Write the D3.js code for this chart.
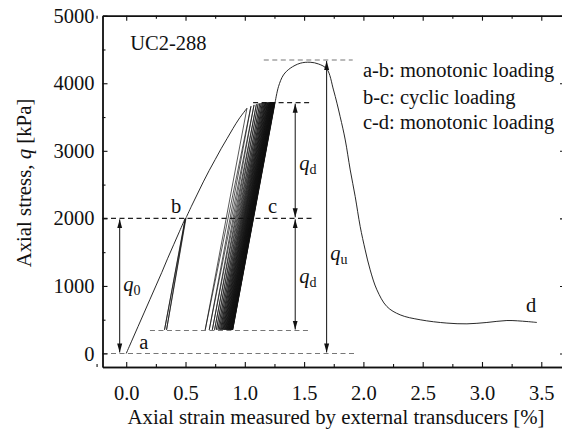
<!DOCTYPE html>
<html><head><meta charset="utf-8">
<script src="https://cdn.jsdelivr.net/npm/d3@7"></script>
<style>
body{margin:0;background:#fff}
svg{display:block}
text{font-family:"Liberation Serif","Times New Roman",serif;fill:#111}
</style>
</head><body>
<svg id="chart" width="562" height="433"></svg>
<script>
// ---------- data ----------
const xTickValues = [0, 0.5, 1.0, 1.5, 2.0, 2.5, 3.0, 3.5];
const xMinorTicks = [-0.25, 0.25, 0.75, 1.25, 1.75, 2.25, 2.75, 3.25, 3.75];
const yTickValues = [0, 1000, 2000, 3000, 4000, 5000];
const yMinorTicks = [500, 1500, 2500, 3500, 4500];

// a-b monotonic loading
const abStrain = [0, 0.05, 0.10, 0.15, 0.20, 0.25, 0.30, 0.35, 0.40, 0.45, 0.497];
const abStress = [0, 200, 400, 600, 800, 1000, 1200, 1410, 1610, 1810, 2000];

// first unload/reload loops at b
const bLoopStrain = [0.323, 0.500, 0.340, 0.505];
const bLoopStress = [350, 2000, 350, 2010];

// loading from b to the first cyclic peak
const firstLoadStrain = [0.505, 0.55, 0.60, 0.65, 0.70, 0.75, 0.80, 0.85, 0.90, 0.95, 1.018];
const firstLoadStress = [2010, 2180, 2360, 2540, 2710, 2870, 3030, 3180, 3330, 3470, 3630];

// cyclic loading b-c: turning points (peak i -> trough i -> peak i+1)
const cycleTopStrain = [1.018, 1.052, 1.078, 1.098, 1.113, 1.127, 1.138, 1.148, 1.156, 1.164, 1.171, 1.177, 1.183, 1.189, 1.194, 1.199, 1.204, 1.208, 1.212, 1.216, 1.220, 1.223, 1.227, 1.230, 1.233, 1.236, 1.239, 1.242, 1.245, 1.247, 1.250, 1.252, 1.254, 1.256];
const cycleTopStress = [3630, 3660, 3680, 3690, 3700, 3705, 3708, 3710, 3712, 3713, 3714, 3715, 3716, 3716, 3717, 3717, 3718, 3718, 3718, 3719, 3719, 3719, 3720, 3720, 3720, 3720, 3720, 3720, 3720, 3720, 3720, 3720, 3720, 3720];
const cycleBottomStrain = [0.666, 0.700, 0.726, 0.745, 0.760, 0.773, 0.784, 0.794, 0.802, 0.810, 0.817, 0.823, 0.829, 0.835, 0.840, 0.845, 0.850, 0.854, 0.858, 0.862, 0.866, 0.869, 0.873, 0.876, 0.879, 0.882, 0.885, 0.888, 0.890, 0.892, 0.894, 0.896, 0.898];
const cycleBottomStress = [350, 350, 350, 350, 350, 350, 350, 350, 350, 350, 350, 350, 350, 350, 350, 350, 350, 350, 350, 350, 350, 350, 350, 350, 350, 350, 350, 350, 350, 350, 350, 350, 350];

// c-d post-cyclic monotonic loading
const cdStrain = [1.256, 1.284, 1.326, 1.383, 1.467, 1.551, 1.622, 1.692, 1.748, 1.804, 1.847, 1.889, 1.931, 1.973, 2.015, 2.057, 2.114, 2.198, 2.310, 2.479, 2.704, 2.873, 3.041, 3.210, 3.379, 3.463];
const cdStress = [3720, 3950, 4123, 4222, 4296, 4311, 4285, 4210, 3901, 3506, 3161, 2717, 2322, 1879, 1534, 1238, 942, 695, 572, 499, 450, 439, 459, 488, 473, 459];

// reference levels
const q0Level = 2000, qMinLevel = 340, qMaxLevel = 3713, quLevel = 4345;

// ---------- chart ----------
const svg = d3.select("#chart");
const x = d3.scaleLinear().domain([-0.2, 3.7]).range([102.5, 565]);
const y = d3.scaleLinear().domain([-200, 5000]).range([367, 15.7]);
const FONT = '"Liberation Serif","Times New Roman",serif';

const pts = (xs, ys) => xs.map((v, i) => [v, ys[i]]);
const lineLin = d3.line().x(d => x(d[0])).y(d => y(d[1]));
const lineSmooth = d3.line().x(d => x(d[0])).y(d => y(d[1])).curve(d3.curveCatmullRom.alpha(0.5));

// dashed reference lines
const dashes = [
  {x1: -0.2, x2: 1.93, q: 0, c: "#777"},
  {x1: 0.20, x2: 1.54, q: qMinLevel, c: "#777"},
  {x1: -0.2, x2: 1.58, q: q0Level, c: "#222"},
  {x1: 1.07, x2: 1.55, q: qMaxLevel, c: "#222"},
  {x1: 1.16, x2: 1.91, q: quLevel, c: "#777"}
];
svg.append("g").selectAll("line").data(dashes).join("line")
  .attr("x1", d => x(d.x1)).attr("x2", d => x(d.x2))
  .attr("y1", d => y(d.q)).attr("y2", d => y(d.q))
  .attr("stroke", d => d.c).attr("stroke-width", 1.1).attr("stroke-dasharray", "5,3.5");

// curve
const g = svg.append("g").attr("fill", "none").attr("stroke", "#111");
g.append("path").attr("d", lineSmooth(pts(abStrain, abStress))).attr("stroke-width", 0.9);
g.append("path").attr("d", lineLin([[abStrain[abStrain.length-1], abStress[abStress.length-1]], ...pts(bLoopStrain, bLoopStress)])).attr("stroke-width", 0.7);
g.append("path").attr("d", lineSmooth(pts(firstLoadStrain, firstLoadStress))).attr("stroke-width", 0.9);
const cyc = [];
for (let i = 0; i < cycleBottomStrain.length; i++) {
  cyc.push([cycleTopStrain[i], cycleTopStress[i]]);
  cyc.push([cycleBottomStrain[i], cycleBottomStress[i]]);
}
cyc.push([cycleTopStrain[cycleTopStrain.length-1], cycleTopStress[cycleTopStress.length-1]]);
g.append("path").attr("d", lineLin(cyc)).attr("stroke-width", 0.7);
g.append("path").attr("d", lineSmooth(pts(cdStrain, cdStress))).attr("stroke-width", 0.9);

// arrows
const defs = svg.append("defs");
defs.append("marker").attr("id", "ah").attr("viewBox", "0 0 10 10").attr("refX", 10).attr("refY", 5)
  .attr("markerWidth", 9).attr("markerHeight", 9).attr("markerUnits", "userSpaceOnUse").attr("orient", "auto-start-reverse")
  .append("path").attr("d", "M0,2.2 L10,5 L0,7.8 Z").attr("fill", "#111");
const arrows = [
  {xv: -0.055, q1: q0Level, q2: 0},
  {xv: 1.425, q1: qMaxLevel, q2: q0Level},
  {xv: 1.425, q1: q0Level, q2: qMinLevel},
  {xv: 1.69, q1: quLevel, q2: 0}
];
svg.append("g").selectAll("line").data(arrows).join("line")
  .attr("x1", d => x(d.xv)).attr("x2", d => x(d.xv))
  .attr("y1", d => y(d.q1) + 1).attr("y2", d => y(d.q2) - 1)
  .attr("stroke", "#111").attr("stroke-width", 1)
  .attr("marker-start", "url(#ah)").attr("marker-end", "url(#ah)");

// axes
const fs = "20.5px";
const ax = svg.append("g");
ax.append("g").attr("transform", `translate(0,${y(-200)})`)
  .call(d3.axisBottom(x).tickValues(xTickValues).tickFormat(d3.format(".1f")).tickSizeInner(-5).tickSizeOuter(0).tickPadding(18));
ax.append("g").attr("transform", `translate(0,${y(-200)})`)
  .call(d3.axisBottom(x).tickValues(xMinorTicks).tickFormat("").tickSizeInner(-3).tickSizeOuter(0));
ax.append("g").attr("transform", `translate(0,${y(5000)})`)
  .call(d3.axisTop(x).tickValues(xTickValues).tickFormat("").tickSizeInner(-5).tickSizeOuter(0));
ax.append("g").attr("transform", `translate(0,${y(5000)})`)
  .call(d3.axisTop(x).tickValues(xMinorTicks).tickFormat("").tickSizeInner(-3).tickSizeOuter(0));
ax.append("g").attr("transform", `translate(${x(-0.2)},0)`)
  .call(d3.axisLeft(y).tickValues(yTickValues).tickFormat(d3.format("d")).tickSizeInner(-5).tickSizeOuter(0).tickPadding(8));
ax.append("g").attr("transform", `translate(${x(-0.2)},0)`)
  .call(d3.axisLeft(y).tickValues(yMinorTicks).tickFormat("").tickSizeInner(-3).tickSizeOuter(0));
ax.append("g").attr("transform", `translate(${x(3.7)},0)`)
  .call(d3.axisRight(y).tickValues(yTickValues).tickFormat("").tickSizeInner(-5).tickSizeOuter(0));
ax.selectAll("g").attr("font-size", fs).attr("font-family", FONT);
ax.selectAll(".domain").attr("stroke", "#111").attr("stroke-width", 1.4);
ax.selectAll(".tick line").attr("stroke", "#111").attr("stroke-width", 1.1);
ax.selectAll(".tick text").attr("font-size", fs).attr("font-family", FONT).attr("fill", "#111");

// axis titles
svg.append("text").attr("x", 336).attr("y", 424).attr("text-anchor", "middle").attr("font-size", "20.8px")
  .text("Axial strain measured by external transducers [%]");
const yt = svg.append("text").attr("transform", "translate(31,183) rotate(-90)").attr("text-anchor", "middle").attr("font-size", "20.8px");
yt.append("tspan").text("Axial stress, ");
yt.append("tspan").attr("font-style", "italic").text("q");
yt.append("tspan").text(" [kPa]");

// annotations
const note = (xv, qv, txt, anchor) => svg.append("text").attr("x", x(xv)).attr("y", y(qv))
  .attr("text-anchor", anchor || "start").attr("font-size", fs).text(txt);
note(0.034, 4493, "UC2-288");
note(1.996, 4089, "a-b: monotonic loading");
note(1.996, 3693, "b-c: cyclic loading");
note(1.996, 3319, "c-d: monotonic loading");
note(0.148, 70, "a", "middle");
note(0.42, 2081, "b", "middle");
note(1.235, 2081, "c", "middle");
note(3.415, 617, "d", "middle");

const qLabel = (xv, qv, sub) => {
  const t = svg.append("text").attr("x", x(xv)).attr("y", y(qv)).attr("font-size", fs);
  t.append("tspan").attr("font-style", "italic").text("q");
  t.append("tspan").attr("font-size", "14px").attr("dy", 4).text(sub);
};
qLabel(-0.025, 927, "0");
qLabel(1.459, 2717, "d");
qLabel(1.459, 1041, "d");
qLabel(1.72, 1386, "u");
</script>
</body></html>
